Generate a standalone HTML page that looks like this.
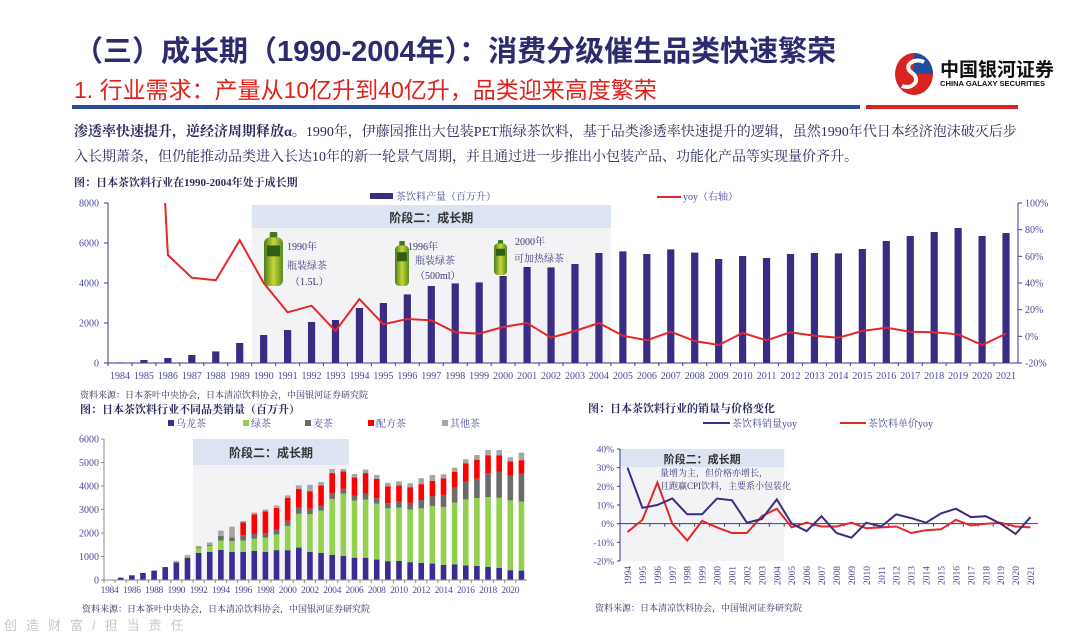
<!DOCTYPE html>
<html><head><meta charset="utf-8">
<style>
html,body{margin:0;padding:0;background:#fff;}
svg{display:block;}
.serif{font-family:"Liberation Serif","Noto Serif CJK SC",serif;}
.sans{font-family:"Liberation Sans","Noto Sans CJK SC",sans-serif;}
</style></head>
<body>
<svg id="page" width="1080" height="638" viewBox="0 0 1080 638" xmlns="http://www.w3.org/2000/svg">
<defs>
<clipPath id="clipTop"><rect x="108" y="203" width="910" height="160"/></clipPath>
<linearGradient id="btl" x1="0" x2="1"><stop offset="0" stop-color="#4e7a1c"/><stop offset="0.5" stop-color="#c6d83a"/><stop offset="1" stop-color="#5a8a20"/></linearGradient>
</defs>
<!-- header -->
<text class="sans" x="74" y="61" font-size="29" font-weight="bold" fill="#2b2b6e">（三）成长期（1990-2004年）：消费分级催生品类快速繁荣</text>
<text class="sans" x="74" y="98" font-size="23" fill="#e3201b">1. 行业需求：产量从10亿升到40亿升，品类迎来高度繁荣</text>
<rect x="72" y="105" width="788" height="4" fill="#2a4d9a"/>
<rect x="866" y="105" width="152" height="4" fill="#d8231f"/>
<g>
<ellipse cx="914" cy="74" rx="19" ry="21" fill="#d8231f"/>
<path d="M914 53 A19 21 0 0 1 933 74 L914 74 Z" fill="#1f4e9e"/>
<path d="M924 62 C914 57 902 66 912 73 C922 80 912 90 902 86" stroke="#fff" stroke-width="4" fill="none"/>
<text class="sans" x="940" y="76" font-size="19" font-weight="bold" fill="#111">中国银河证券</text>
<text class="sans" x="940" y="86" font-size="7.6" font-weight="bold" fill="#111">CHINA GALAXY SECURITIES</text>
</g>
<!-- body text -->
<text class="serif" x="74" y="136" font-size="14" fill="#2b2b5e"><tspan font-weight="bold">渗透率快速提升，逆经济周期释放α。</tspan>1990年，伊藤园推出大包装PET瓶绿茶饮料，基于品类渗透率快速提升的逻辑，虽然1990年代日本经济泡沫破灭后步</text>
<text class="serif" x="74" y="161" font-size="14" fill="#2b2b5e">入长期萧条，但仍能推动品类进入长达10年的新一轮景气周期，并且通过进一步推出小包装产品、功能化产品等实现量价齐升。</text>
<text class="serif" x="74" y="186" font-size="11" font-weight="bold" fill="#2b2b5e">图：日本茶饮料行业在1990-2004年处于成长期</text>

<g id="topChart"></g>
<text class="serif" x="80" y="398" font-size="9" fill="#2b2b5e">资料来源：日本茶叶中央协会，日本清凉饮料协会，中国银河证券研究院</text>

<text class="serif" x="80" y="413" font-size="11" font-weight="bold" fill="#2b2b5e">图：日本茶饮料行业不同品类销量（百万升）</text>
<g id="stackChart"></g>
<text class="serif" x="82" y="612" font-size="9" fill="#2b2b5e">资料来源：日本茶叶中央协会，日本清凉饮料协会，中国银河证券研究院</text>

<text class="serif" x="588" y="412" font-size="11" font-weight="bold" fill="#2b2b5e">图：日本茶饮料行业的销量与价格变化</text>
<g id="yoyChart"></g>
<text class="serif" x="595" y="611" font-size="9" fill="#2b2b5e">资料来源：日本清凉饮料协会，中国银河证券研究院</text>

<text class="sans" x="4" y="630" font-size="13" fill="#c8c8c8" letter-spacing="9">创造财富/担当责任</text>
</svg>
<script>
// ---------- Data: top chart ----------
const topYears = [1984,1985,1986,1987,1988,1989,1990,1991,1992,1993,1994,1995,1996,1997,1998,1999,2000,2001,2002,2003,2004,2005,2006,2007,2008,2009,2010,2011,2012,2013,2014,2015,2016,2017,2018,2019,2020,2021];
const topProduction = [30,150,250,400,580,1000,1400,1650,2050,2150,2750,3000,3430,3850,3980,4030,4350,4800,4780,4950,5500,5580,5450,5680,5520,5200,5350,5250,5450,5500,5480,5700,6100,6350,6550,6750,6350,6500];
const topYoy = [null,400,61,44,42,72,40,18,23,4,28,9,13,12,3,2,7,10,-1,4,10,0.5,-3,3.5,-3.5,-6.5,2.5,-3,3,0.5,-1,4,6.5,3.5,3,1.5,-6.5,2];
const topLeftTicks = [0,2000,4000,6000,8000];
const topRightTicks = [-20,0,20,40,60,80,100];
// ---------- Data: stacked chart ----------
const stackYears = topYears.slice();
const stackOolong = [20,100,200,300,400,550,750,950,1150,1200,1280,1200,1200,1240,1200,1270,1270,1380,1200,1150,1070,1020,950,950,870,800,810,760,730,700,640,660,620,600,560,520,420,400];
const stackGreen  = [0,0,0,0,0,0,50,100,200,250,400,450,480,520,600,670,1030,1440,1600,1800,2380,2660,2430,2470,2380,2250,2270,2240,2320,2450,2470,2630,2810,2890,2970,2980,2970,2940];
const stackBarley = [0,0,0,0,0,0,0,0,30,50,200,170,220,200,200,200,220,250,230,220,250,200,200,250,230,220,250,280,350,420,510,640,750,820,1020,1100,1050,1180];
const stackBlend  = [0,0,0,0,0,0,0,0,0,0,0,0,550,830,920,930,980,800,750,850,850,740,780,880,820,720,690,670,680,650,700,680,780,810,750,700,600,580];
const stackOther  = [0,0,0,0,0,0,20,20,70,100,220,450,60,80,80,100,100,160,270,150,170,100,150,150,170,150,180,170,250,250,180,170,180,200,230,230,180,320];
const stackTicks = [0,1000,2000,3000,4000,5000,6000];
const stackNames = ["乌龙茶","绿茶","麦茶","配方茶","其他茶"];
// ---------- Data: yoy chart ----------
const yoyYears = [1994,1995,1996,1997,1998,1999,2000,2001,2002,2003,2004,2005,2006,2007,2008,2009,2010,2011,2012,2013,2014,2015,2016,2017,2018,2019,2020,2021];
const yoyVolume = [30,8.5,10,13.5,5,5,13.5,12.5,0.5,2.5,13,0,-4,4,-5,-7.5,0.5,-1.5,5,3,0.5,5.5,8,3.5,4,0,-5.5,3.5];
const yoyPrice  = [-4.5,2,22,0,-9,1.5,-2,-5,-5,4,8,-2,0.5,-1.5,-1.5,0.5,-2.5,-2,-1.5,-5,-3.5,-3,2,-1,0,0.5,-1.5,-2];
const yoyTicks = [-20,-10,0,10,20,30,40];

const NS = "http://www.w3.org/2000/svg";
function mk(parent, tag, attrs, txt){const e=document.createElementNS(NS,tag);for(const k in attrs)e.setAttribute(k,attrs[k]);if(txt!==undefined)e.textContent=txt;parent.appendChild(e);return e;}
const NAVY="#3a2c82", AX="#3a3a8a", LBL="#4a4a9a";

// ================= TOP CHART =================
(function(){
  const g=document.getElementById('topChart');
  const x0=108,x1=1018,yTop=203,yBot=363;
  const bw=(x1-x0)/topYears.length;
  const xc=i=>x0+bw*(i+0.5);
  const yL=v=>yBot-(v-0)/8000*(yBot-yTop);
  const yR=v=>yBot-(v+20)/120*(yBot-yTop);
  const bxs=xc(topYears.indexOf(1990))-bw*0.5, bxe=xc(topYears.indexOf(2004))+bw*0.5;
  let e=mk(g,'rect',{x:bxs,y:yTop+2,width:bxe-bxs,height:yBot-yTop-2,fill:'#f3f3f5'});
   
  e=mk(g,'rect',{x:bxs,y:yTop+2,width:bxe-bxs,height:23,fill:'#dce3f1'});
   
  e=mk(g,'text',{x:(bxs+bxe)/2,y:yTop+19,'text-anchor':'middle','font-size':12,'font-weight':'bold',fill:'#333',class:'sans'},'阶段二：成长期');
   
  topProduction.forEach((v,i)=>{
    const b=mk(g,'rect',{x:xc(i)-3.6,y:yL(v),width:7.2,height:yBot-yL(v),fill:NAVY});
    
    
  });
  mk(g,'line',{x1:x0,y1:yTop,x2:x0,y2:yBot,stroke:AX,'stroke-width':1});
  mk(g,'line',{x1:x1,y1:yTop,x2:x1,y2:yBot,stroke:AX,'stroke-width':1});
  mk(g,'line',{x1:x0,y1:yBot,x2:x1,y2:yBot,stroke:AX,'stroke-width':1});
  topLeftTicks.forEach(t=>{
    mk(g,'line',{x1:x0-4,y1:yL(t),x2:x0,y2:yL(t),stroke:AX});
    const l=mk(g,'text',{x:x0-9,y:yL(t)+3.5,'text-anchor':'end','font-size':10,fill:LBL,class:'serif'},t);
     
  });
  topRightTicks.forEach(t=>{
    mk(g,'line',{x1:x1,y1:yR(t),x2:x1+4,y2:yR(t),stroke:AX});
    const l=mk(g,'text',{x:x1+7,y:yR(t)+3.5,'font-size':10,fill:LBL,class:'serif'},t+'%');
     
  });
  topYears.forEach((yr,i)=>{
    mk(g,'line',{x1:x0+bw*i,y1:yBot,x2:x0+bw*i,y2:yBot+3,stroke:AX});
    const l=mk(g,'text',{x:xc(i),y:yBot+16,'text-anchor':'middle','font-size':10,fill:LBL,class:'serif'},yr);
     
  });
  let d='';
  topYoy.forEach((v,i)=>{ if(v===null)return; d+=(d?'L':'M')+xc(i).toFixed(1)+' '+yR(v).toFixed(1); });
  const p=mk(g,'path',{d:d,fill:'none',stroke:'#e5262a','stroke-width':2,'clip-path':'url(#clipTop)'});
   
  mk(g,'rect',{x:370,y:193,width:23,height:6,fill:NAVY});
  e=mk(g,'text',{x:396,y:200,'font-size':10,fill:LBL,class:'serif'},'茶饮料产量（百万升）');
   
  mk(g,'line',{x1:657,y1:197,x2:681,y2:197,stroke:'#e5262a','stroke-width':2});
  e=mk(g,'text',{x:683,y:200,'font-size':10,fill:LBL,class:'serif'},'yoy（右轴）');
   
  function bottle(x,y,w,h,name){
    const bg=mk(g,'g',{});
     
    mk(bg,'rect',{x:x+w*0.3,y:y,width:w*0.4,height:h*0.12,fill:'#3f7a22',rx:1});
    mk(bg,'rect',{x:x,y:y+h*0.1,width:w,height:h*0.9,rx:w*0.3,fill:'url(#btl)'});
    mk(bg,'rect',{x:x+w*0.15,y:y+h*0.25,width:w*0.7,height:h*0.2,fill:'#2f5e1a'});
  }
  bottle(264,232,19,54,'bottle-1990');
  bottle(395,241,14,45,'bottle-1996');
  bottle(494,240,13,35,'bottle-2000');
  const ann=[[287,250,'1990年'],[287,269,'瓶装绿茶'],[290,285,'（1.5L）'],[408,250,'1996年'],[415,264,'瓶装绿茶'],[415,279,'（500ml）'],[515,245,'2000年'],[514,262,'可加热绿茶']];
  ann.forEach(a=>{const t=mk(g,'text',{x:a[0],y:a[1],'font-size':10,fill:'#3a3a7a',class:'serif'},a[2]);
     });
})();

// ================= STACKED CHART =================
(function(){
  const g=document.getElementById('stackChart');
  const x0=104,x1=527,yTop=439,yBot=580;
  const bw=(x1-x0)/stackYears.length;
  const xc=i=>x0+bw*(i+0.5);
  const y=v=>yBot-v/6000*(yBot-yTop);
  const bxs=xc(stackYears.indexOf(1992))-bw*0.5, bxe=xc(stackYears.indexOf(2005))+bw*0.5;
  let e=mk(g,'rect',{x:bxs,y:yTop,width:bxe-bxs,height:yBot-yTop,fill:'#f3f3f5'});
   
  e=mk(g,'rect',{x:bxs,y:yTop,width:bxe-bxs,height:26,fill:'#dce3f1'});
   
  e=mk(g,'text',{x:(bxs+bxe)/2,y:yTop+18,'text-anchor':'middle','font-size':12,'font-weight':'bold',fill:'#333',class:'sans'},'阶段二：成长期');
   
  const series=[stackOolong,stackGreen,stackBarley,stackBlend,stackOther];
  const colors=['#3a2c92','#92d050','#6b6b6b','#ff0000','#a6a6a6'];
  const names=['oolong','green','barley','blend','other'];
  stackYears.forEach((yr,i)=>{
    let acc=0;
    series.forEach((s,k)=>{
      const v=s[i]; if(!v){return;}
      const r=mk(g,'rect',{x:xc(i)-2.8,y:y(acc+v),width:5.6,height:y(acc)-y(acc+v),fill:colors[k]});
      
      
      acc+=v;
    });
  });
  mk(g,'line',{x1:x0,y1:yTop,x2:x0,y2:yBot,stroke:'#888'});
  mk(g,'line',{x1:x0,y1:yBot,x2:x1,y2:yBot,stroke:'#888'});
  stackTicks.forEach(t=>{
    mk(g,'line',{x1:x0-3,y1:y(t),x2:x0,y2:y(t),stroke:'#888'});
    const l=mk(g,'text',{x:x0-5,y:y(t)+3.5,'text-anchor':'end','font-size':10,fill:LBL,class:'serif'},t);
     
  });
  stackYears.forEach((yr,i)=>{
    mk(g,'line',{x1:x0+bw*i,y1:yBot,x2:x0+bw*i,y2:yBot+3,stroke:'#888'});
    if(i%2===0){const l=mk(g,'text',{x:xc(i),y:yBot+13,'text-anchor':'middle','font-size':9.5,fill:LBL,class:'serif','letter-spacing':'-0.3'},yr);
       }
  });
  const lx=[168,243,305,368,442];
  stackNames.forEach((n,k)=>{
    mk(g,'rect',{x:lx[k],y:420,width:6,height:6,fill:colors[k]});
    const t=mk(g,'text',{x:lx[k]+8,y:427,'font-size':10,fill:LBL,class:'serif'},n);
     
  });
})();

// ================= YOY CHART =================
(function(){
  const g=document.getElementById('yoyChart');
  const x0=620,x1=1038,yTop=449,yBot=561;
  const bw=(x1-x0)/yoyYears.length;
  const xc=i=>x0+bw*(i+0.5);
  const y=v=>yBot-(v+20)/60*(yBot-yTop);
  const bxs=x0, bxe=xc(yoyYears.indexOf(2004))+bw*0.5;
  let e=mk(g,'rect',{x:bxs,y:yTop,width:bxe-bxs,height:yBot-yTop,fill:'#f3f3f5'});
   
  e=mk(g,'rect',{x:bxs,y:yTop,width:bxe-bxs,height:18,fill:'#dce3f1'});
   
  e=mk(g,'text',{x:(bxs+bxe)/2,y:yTop+14,'text-anchor':'middle','font-size':11,'font-weight':'bold',fill:'#333',class:'sans'},'阶段二：成长期');
   
  e=mk(g,'text',{x:660,y:476,'font-size':9,fill:'#3a3a7a',class:'serif'},'量增为主，但价格亦增长，');
   
  e=mk(g,'text',{x:660,y:489,'font-size':9,fill:'#3a3a7a',class:'serif'},'且跑赢CPI饮料，主要系小包装化');
   
  mk(g,'line',{x1:x0,y1:yTop,x2:x0,y2:yBot,stroke:AX});
  mk(g,'line',{x1:x0,y1:y(0),x2:x1,y2:y(0),stroke:AX});
  yoyTicks.forEach(t=>{
    mk(g,'line',{x1:x0-3,y1:y(t),x2:x0,y2:y(t),stroke:AX});
    const l=mk(g,'text',{x:x0-6,y:y(t)+3.5,'text-anchor':'end','font-size':9.5,fill:LBL,class:'serif'},t+'%');
     
  });
  yoyYears.forEach((yr,i)=>{
    mk(g,'line',{x1:x0+bw*i,y1:y(0),x2:x0+bw*i,y2:y(0)+3,stroke:AX});
    const l=mk(g,'text',{x:0,y:0,'font-size':9.5,fill:LBL,class:'serif','text-anchor':'end',transform:`translate(${(xc(i)+3.5).toFixed(1)},566) rotate(-90)`},yr);
     
  });
  function line(vals,color,name){
    const d=vals.map((v,i)=>(i?'L':'M')+xc(i).toFixed(1)+' '+y(v).toFixed(1)).join('');
    const p=mk(g,'path',{d:d,fill:'none',stroke:color,'stroke-width':2});
     
  }
  line(yoyPrice,'#e5262a','price-yoy-line');
  line(yoyVolume,'#3a2c82','volume-yoy-line');
  mk(g,'line',{x1:703,y1:423,x2:730,y2:423,stroke:'#3a2c82','stroke-width':2});
  e=mk(g,'text',{x:732,y:427,'font-size':10,fill:LBL,class:'serif'},'茶饮料销量yoy');
   
  mk(g,'line',{x1:840,y1:423,x2:866,y2:423,stroke:'#e5262a','stroke-width':2});
  e=mk(g,'text',{x:868,y:427,'font-size':10,fill:LBL,class:'serif'},'茶饮料单价yoy');
   
})();
</script>
</body></html>
